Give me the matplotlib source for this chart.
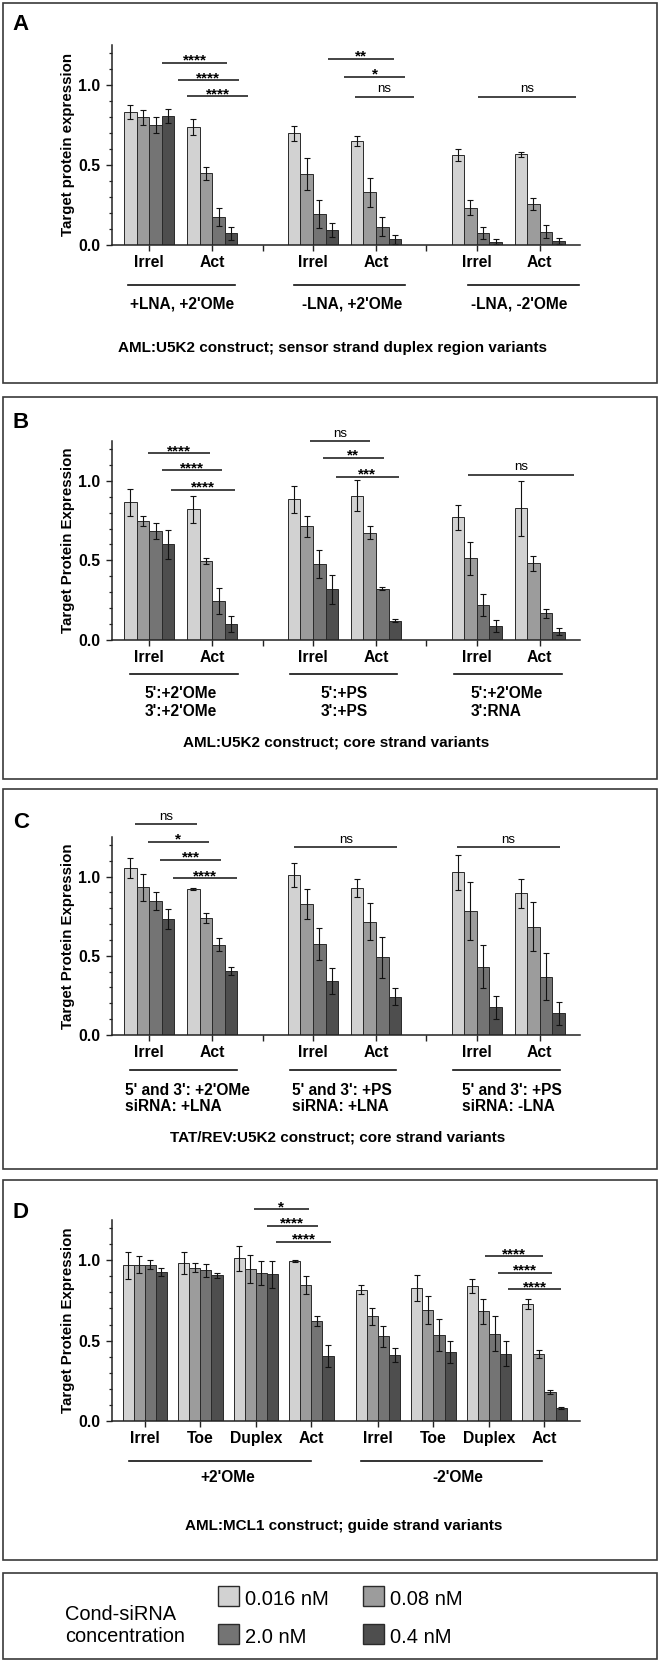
import matplotlib.pyplot as plt
from matplotlib.patches import Rectangle
from matplotlib.transforms import blended_transform_factory
from matplotlib.ticker import FixedLocator

plt.rcParams['font.family'] = ['Liberation Sans', 'DejaVu Sans']

W, H = 660, 1663

concentraciones = ['0.016 nM', '0.08 nM', '2.0 nM', '0.4 nM']
colores = ['#d2d2d2', '#9c9c9c', '#747474', '#4e4e4e']

# Panel A: AML:U5K2, sensor strand duplex region variants
a_categorias = ['Irrel', 'Act', 'Irrel', 'Act', 'Irrel', 'Act']
a_medias = [
	[0.831, 0.798, 0.750, 0.806],
	[0.740, 0.448, 0.173, 0.073],
	[0.698, 0.444, 0.194, 0.094],
	[0.650, 0.329, 0.115, 0.035],
	[0.563, 0.233, 0.077, 0.021],
	[0.567, 0.254, 0.083, 0.025],
]
a_errores = [
	[0.046, 0.046, 0.050, 0.044],
	[0.050, 0.042, 0.056, 0.042],
	[0.046, 0.098, 0.087, 0.046],
	[0.031, 0.090, 0.058, 0.028],
	[0.038, 0.048, 0.038, 0.017],
	[0.016, 0.038, 0.042, 0.021],
]
a_grupos = ["+LNA, +2'OMe", "-LNA, +2'OMe", "-LNA, -2'OMe"]
a_signif = ['****', '****', '****', '**', '*', 'ns', 'ns']

# Panel B: AML:U5K2, core strand variants
b_categorias = ['Irrel', 'Act', 'Irrel', 'Act', 'Irrel', 'Act']
b_medias = [
	[0.866, 0.748, 0.686, 0.600],
	[0.822, 0.497, 0.245, 0.099],
	[0.885, 0.713, 0.478, 0.319],
	[0.906, 0.675, 0.323, 0.122],
	[0.771, 0.512, 0.220, 0.088],
	[0.828, 0.482, 0.168, 0.052],
]
b_errores = [
	[0.084, 0.034, 0.052, 0.092],
	[0.084, 0.021, 0.080, 0.049],
	[0.085, 0.069, 0.088, 0.090],
	[0.096, 0.042, 0.007, 0.012],
	[0.078, 0.104, 0.067, 0.038],
	[0.172, 0.046, 0.027, 0.021],
]
b_grupos = ["5':+2'OMe\n3':+2'OMe", "5':+PS\n3':+PS", "5':+2'OMe\n3':RNA"]
b_signif = ['****', '****', '****', 'ns', '**', '***', 'ns']

# Panel C: TAT/REV:U5K2, core strand variants
c_categorias = ['Irrel', 'Act', 'Irrel', 'Act', 'Irrel', 'Act']
c_medias = [
	[1.053, 0.933, 0.846, 0.735],
	[0.920, 0.737, 0.570, 0.404],
	[1.010, 0.827, 0.573, 0.341],
	[0.926, 0.716, 0.490, 0.242],
	[1.027, 0.785, 0.432, 0.175],
	[0.895, 0.684, 0.368, 0.137],
]
c_errores = [
	[0.063, 0.084, 0.059, 0.063],
	[0.005, 0.031, 0.040, 0.028],
	[0.078, 0.093, 0.101, 0.080],
	[0.057, 0.116, 0.127, 0.053],
	[0.112, 0.183, 0.136, 0.073],
	[0.092, 0.154, 0.148, 0.073],
]
c_grupos = ["5' and 3': +2'OMe\nsiRNA: +LNA", "5' and 3': +PS\nsiRNA: +LNA", "5' and 3': +PS\nsiRNA: -LNA"]
c_signif = ['ns', '*', '***', '****', 'ns', 'ns']

# Panel D: AML:MCL1, guide strand variants
d_categorias = ['Irrel', 'Toe', 'Duplex', 'Act', 'Irrel', 'Toe', 'Duplex', 'Act']
d_medias = [
	[0.969, 0.973, 0.973, 0.925],
	[0.981, 0.954, 0.938, 0.907],
	[1.012, 0.948, 0.919, 0.913],
	[0.994, 0.846, 0.622, 0.402],
	[0.817, 0.651, 0.527, 0.413],
	[0.828, 0.689, 0.537, 0.427],
	[0.842, 0.683, 0.544, 0.419],
	[0.728, 0.415, 0.180, 0.081],
]
d_errores = [
	[0.083, 0.052, 0.027, 0.025],
	[0.067, 0.029, 0.041, 0.016],
	[0.079, 0.087, 0.073, 0.085],
	[0.006, 0.054, 0.031, 0.069],
	[0.027, 0.052, 0.064, 0.043],
	[0.079, 0.087, 0.100, 0.069],
	[0.044, 0.078, 0.109, 0.077],
	[0.033, 0.025, 0.015, 0.005],
]
d_grupos = ["+2'OMe", "-2'OMe"]
d_signif = ['*', '****', '****', '****', '****', '****']


def fx(px):
	return px / W


def fy(py):
	return 1 - py / H


def caja(fig, arriba, abajo, izq=3, der=657):
	rect = Rectangle((fx(izq), fy(abajo)), fx(der - izq), (abajo - arriba) / H, transform=fig.transFigure,
					 fill=False, ec='#3a3a3a', lw=1.2)
	fig.add_artist(rect)


def dibujar_barras(fig, arriba, abajo, centros, separadores, xlim, categorias, medias, errores, ylabel):
	ax = fig.add_axes([fx(111.5), fy(abajo), fx(580 - 111.5), (abajo - arriba) / H])
	desplaz = [-1.5, -0.5, 0.5, 1.5]
	for j in range(4):
		xs = [c + desplaz[j] for c in centros]
		ax.bar(xs, [m[j] for m in medias], 1.0, yerr=[e[j] for e in errores], color=colores[j],
			   edgecolor='#2a2a2a', linewidth=0.7, capsize=2.2, zorder=2,
			   error_kw={'elinewidth': 0.8, 'capthick': 0.8, 'ecolor': '#111111'})
	ax.set_xlim(xlim)
	ax.set_ylim(0, 1.25)
	ticks = list(centros) + list(separadores)
	etiquetas = list(categorias) + [''] * len(separadores)
	ax.set_xticks(ticks)
	ax.set_xticklabels(etiquetas, fontsize=11.3, fontweight='bold')
	ax.set_yticks([0, 0.5, 1.0])
	ax.set_yticklabels(['0.0', '0.5', '1.0'], fontsize=11.3, fontweight='bold')
	ax.yaxis.set_minor_locator(FixedLocator([0.1, 0.2, 0.3, 0.4, 0.6, 0.7, 0.8, 0.9, 1.1, 1.2]))
	ax.tick_params(axis='both', which='major', length=4.5, width=1.0, color='#222222')
	ax.tick_params(axis='x', pad=2.5)
	ax.tick_params(axis='y', pad=3.5)
	ax.tick_params(axis='y', which='minor', length=2.3, width=0.9, color='#222222')
	for lado in ['top', 'right']:
		ax.spines[lado].set_visible(False)
	for lado in ['left', 'bottom']:
		ax.spines[lado].set_linewidth(1.1)
		ax.spines[lado].set_color('#222222')
	fig.text(fx(68), fy((arriba + abajo) / 2), ylabel, rotation=90, ha='center', va='center',
			 fontsize=10.8, fontweight='bold')
	return ax


def dibujar_signif(ax, lineas, textos):
	for (x0, x1, y), texto in zip(lineas, textos):
		ax.plot([x0, x1], [y, y], color='#111111', lw=1.1, clip_on=False, solid_capstyle='butt')
		if texto == 'ns':
			ax.text((x0 + x1) / 2, y + 0.028, texto, ha='center', va='baseline', fontsize=9.5, clip_on=False)
		else:
			ax.text((x0 + x1) / 2, y - 0.012, texto, ha='center', va='baseline', fontsize=11,
					fontweight='bold', clip_on=False)


def dibujar_grupos(fig, ax, subrayados, y_sub, textos, x_textos, y_texto, alineacion, interlineado=1.2):
	trans = blended_transform_factory(ax.transData, fig.transFigure)
	for x0, x1 in subrayados:
		ax.plot([x0, x1], [fy(y_sub), fy(y_sub)], transform=trans, color='#111111', lw=1.2, clip_on=False)
	for texto, x in zip(textos, x_textos):
		ax.text(x, fy(y_texto), texto, transform=trans, ha=alineacion, va='center', fontsize=11.2,
				fontweight='bold', linespacing=interlineado, multialignment='left')


fig = plt.figure(figsize=(W / 100, H / 100), dpi=100)

centros_3 = [0, 5, 13, 18, 26, 31]
centros_4 = [0, 5, 10, 15, 21, 26, 31, 36]

# ---- Panel A ----
caja(fig, 3, 383)
fig.text(fx(21), fy(25), 'A', ha='center', va='center', fontsize=16, fontweight='bold')
ax_a = dibujar_barras(fig, 45, 245, centros_3, [9, 22], (-3, 34.2), a_categorias, a_medias, a_errores,
					  'Target protein expression')
dibujar_signif(ax_a, [(1.0, 6.2, 1.14), (2.25, 7.1, 1.03), (3.0, 7.85, 0.93), (14.2, 19.4, 1.165),
					  (15.5, 20.3, 1.052), (16.3, 21.05, 0.927), (26.1, 33.9, 0.927)], a_signif)
dibujar_grupos(fig, ax_a, [(-1.67, 6.83), (11.5, 20.3), (25.27, 34.1)], 285, a_grupos, [2.6, 16.1, 29.4], 304,
			   'center')
fig.text(fx(333), fy(348), 'AML:U5K2 construct; sensor strand duplex region variants', ha='center', va='center',
		 fontsize=11, fontweight='bold')

# ---- Panel B ----
caja(fig, 397, 779)
fig.text(fx(21), fy(423), 'B', ha='center', va='center', fontsize=16, fontweight='bold')
ax_b = dibujar_barras(fig, 441, 640, centros_3, [9, 22], (-3, 34.2), b_categorias, b_medias, b_errores,
					  'Target Protein Expression')
dibujar_signif(ax_b, [(-0.13, 4.8, 1.172), (1.0, 5.8, 1.065), (1.75, 6.8, 0.943), (12.75, 17.55, 1.25),
					  (13.8, 18.6, 1.145), (14.8, 19.8, 1.027), (25.3, 33.7, 1.038)], b_signif)
dibujar_grupos(fig, ax_b, [(-1.55, 7.05), (11.2, 19.7), (24.2, 32.8)], 674, b_grupos, [-0.4, 13.6, 25.5], 702.5,
			   'left')
fig.text(fx(336), fy(743), 'AML:U5K2 construct; core strand variants', ha='center', va='center',
		 fontsize=11, fontweight='bold')

# ---- Panel C ----
caja(fig, 789, 1169)
fig.text(fx(21), fy(823), 'C', ha='center', va='center', fontsize=16, fontweight='bold')
ax_c = dibujar_barras(fig, 837, 1035, centros_3, [9, 22], (-3, 34.2), c_categorias, c_medias, c_errores,
					  'Target Protein Expression')
dibujar_signif(ax_c, [(-1.13, 3.8, 1.331), (-0.13, 4.73, 1.221), (0.86, 5.73, 1.105), (1.92, 6.99, 0.99),
					  (11.5, 19.7, 1.186), (24.4, 32.6, 1.186)], c_signif)
dibujar_grupos(fig, ax_c, [(-1.55, 7.0), (11.2, 19.6), (24.1, 32.6)], 1070, c_grupos, [-1.95, 11.36, 24.8], 1098.5,
			   'left', interlineado=1.1)
fig.text(fx(338), fy(1137), 'TAT/REV:U5K2 construct; core strand variants', ha='center', va='center',
		 fontsize=11, fontweight='bold')

# ---- Panel D ----
caja(fig, 1180, 1560)
fig.text(fx(21), fy(1212), 'D', ha='center', va='center', fontsize=16, fontweight='bold')
ax_d = dibujar_barras(fig, 1220, 1421, centros_4, [], (-3, 39.2), d_categorias, d_medias, d_errores,
					  'Target Protein Expression')
dibujar_signif(ax_d, [(9.8, 14.8, 1.317), (11.0, 15.6, 1.214), (11.8, 16.8, 1.114), (30.66, 35.88, 1.025),
					  (31.8, 36.7, 0.923), (32.7, 37.5, 0.82)], d_signif)
dibujar_grupos(fig, ax_d, [(-1.4, 15.0), (19.5, 35.8)], 1461, d_grupos, [7.5, 28.2], 1478, 'center')
fig.text(fx(344), fy(1526), 'AML:MCL1 construct; guide strand variants', ha='center', va='center',
		 fontsize=11, fontweight='bold')

# ---- Leyenda ----
caja(fig, 1573, 1659)
fig.text(fx(65), fy(1620), 'Cond-siRNA', ha='left', va='baseline', fontsize=14.4)
fig.text(fx(65), fy(1642), 'concentration', ha='left', va='baseline', fontsize=14.4)
pos_leyenda = [(218, 1586, 1605), (363, 1586, 1605), (218, 1624, 1643), (363, 1624, 1643)]
for (x, y, base), etiqueta, color in zip(pos_leyenda, concentraciones, colores):
	fig.add_artist(Rectangle((fx(x), fy(y + 20)), fx(21), 20 / H, transform=fig.transFigure,
							 fc=color, ec='#2a2a2a', lw=1.0))
	fig.text(fx(x + 27), fy(base), etiqueta, ha='left', va='baseline', fontsize=14.5)

fig.savefig('out.png', dpi=100)
